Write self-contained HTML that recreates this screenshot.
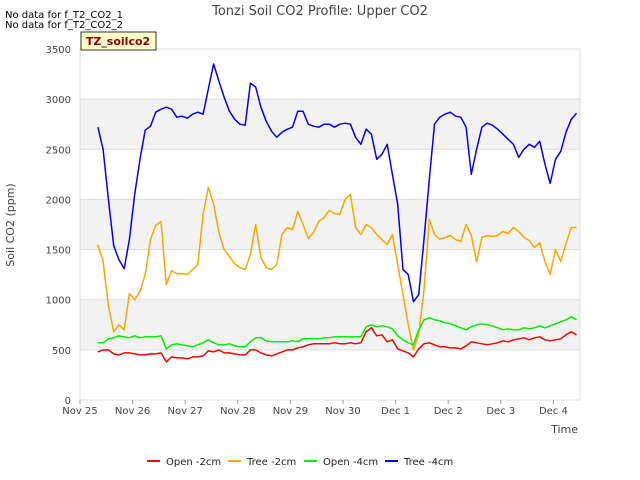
<!DOCTYPE html>
<html><head><meta charset="utf-8"><style>
body{margin:0;background:#fff;font-family:"Liberation Sans","DejaVu Sans",sans-serif}
svg{display:block}
</style></head><body>
<svg width="640" height="480" id="chart" xmlns="http://www.w3.org/2000/svg" font-family="DejaVu Sans, Liberation Sans, sans-serif">
<text x="320" y="15" text-anchor="middle" font-size="13" fill="#444">Tonzi Soil CO2 Profile: Upper CO2</text>
<text x="5" y="18" font-size="10" fill="#000">No data for f_T2_CO2_1</text>
<text x="5" y="28" font-size="10" fill="#000">No data for f_T2_CO2_2</text>
<g id="bands"></g>
<g id="grid"></g>
<rect x="80" y="49" width="500" height="351" fill="none" stroke="#ddd"/>
<g id="series"></g>
<g id="axes"></g>
<g>
<rect x="81" y="32" width="75" height="18" fill="#ffffcc" stroke="#000" stroke-width="0.8"/>
<text x="118" y="45" text-anchor="middle" font-size="11" font-weight="bold" fill="#8b0000">TZ_soilco2</text>
</g>
<text x="14" y="225" text-anchor="middle" font-size="11" fill="#444" transform="rotate(-90 14 225)">Soil CO2 (ppm)</text>
<text x="578" y="433" text-anchor="end" font-size="11" fill="#444">Time</text>
<g id="legend"></g>
</svg>
<script>
const xTickLabels=["Nov 25","Nov 26","Nov 27","Nov 28","Nov 29","Nov 30","Dec 1","Dec 2","Dec 3","Dec 4"];
const yTicks=[0,500,1000,1500,2000,2500,3000,3500];
const t0=0.34, dt=0.1;
const treeMinus4=[2720,2500,2000,1540,1400,1310,1600,2050,2400,2690,2730,2870,2900,2920,2900,2820,2830,2810,2850,2870,2850,3100,3350,3180,3020,2880,2800,2750,2740,3160,3120,2920,2780,2680,2620,2670,2700,2720,2880,2880,2750,2730,2720,2750,2750,2720,2750,2760,2750,2620,2550,2700,2650,2400,2450,2550,2250,1950,1300,1250,980,1050,1600,2200,2750,2820,2850,2870,2830,2820,2720,2250,2500,2720,2760,2740,2700,2650,2600,2550,2420,2500,2550,2520,2580,2350,2160,2400,2480,2670,2800,2860];
const treeMinus2=[1550,1380,940,680,750,700,1060,1000,1080,1250,1600,1740,1780,1150,1290,1260,1260,1250,1300,1350,1850,2120,1950,1670,1500,1430,1360,1320,1300,1450,1750,1420,1320,1300,1350,1650,1720,1700,1880,1750,1610,1670,1780,1820,1890,1860,1850,2000,2050,1720,1650,1750,1720,1650,1600,1550,1650,1350,1050,750,500,650,1100,1800,1650,1600,1620,1640,1600,1580,1750,1640,1380,1620,1640,1630,1640,1680,1660,1720,1680,1620,1590,1520,1570,1380,1250,1500,1380,1560,1720,1720];
const openMinus4=[570,570,610,620,640,630,620,640,620,630,630,630,640,510,550,560,550,540,530,550,570,600,570,550,550,560,540,530,530,580,620,620,590,580,580,580,580,590,580,610,610,610,610,620,620,630,630,630,630,630,630,730,750,730,740,730,710,640,600,570,550,700,800,820,800,790,770,760,740,720,700,730,750,760,750,740,720,700,710,700,700,720,710,720,740,720,740,760,780,800,830,800];
const openMinus2=[480,500,500,460,450,470,470,460,450,450,460,460,470,380,430,420,420,410,430,430,440,490,480,500,470,470,460,450,450,500,500,470,450,440,460,480,500,500,520,530,550,560,560,560,560,570,560,560,570,560,570,680,720,640,650,580,600,510,490,470,430,510,560,570,550,530,530,520,520,510,540,580,570,560,550,560,570,590,580,600,610,620,600,620,630,600,590,600,610,650,680,650];
const seriesNames=["Open -2cm","Tree -2cm","Open -4cm","Tree -4cm"];
const seriesColors=["#ff0000","#ffa500","#00ee00","#0000ff"];
const seriesData=[openMinus2,treeMinus2,openMinus4,treeMinus4];
const X=d=>80+d*52.6, Y=v=>400-v*(351/3500);
const NS="http://www.w3.org/2000/svg";
function mk(tag,attrs,parent){const e=document.createElementNS(NS,tag);for(const k in attrs)e.setAttribute(k,attrs[k]);parent.appendChild(e);return e;}
const bands=document.getElementById('bands'),grid=document.getElementById('grid'),axes=document.getElementById('axes'),ser=document.getElementById('series'),leg=document.getElementById('legend');
for(let i=0;i<yTicks.length-1;i++){
  if(i%2===1){const b=mk('rect',{x:80,y:Y(yTicks[i+1]),width:500,height:Y(yTicks[i])-Y(yTicks[i+1]),fill:'#f2f2f2'},bands);
  
  }
}
yTicks.forEach(v=>{
  const l=mk('line',{x1:80,x2:580,y1:Y(v),y2:Y(v),stroke:'#ddd'},grid);
  
  
  const t=mk('text',{x:71,y:Y(v)+4,'text-anchor':'end','font-size':10,fill:'#444'},axes);
  t.textContent=v;
  
  
});
xTickLabels.forEach((s,i)=>{
  const l=mk('line',{x1:X(i),x2:X(i),y1:400,y2:404,stroke:'#999'},axes);
  
  
  const t=mk('text',{x:X(i),y:414,'text-anchor':'middle','font-size':10,fill:'#444'},axes);
  t.textContent=s;
  
  
});
seriesData.forEach((arr,si)=>{
  const pts=arr.map((v,i)=>X(t0+i*dt).toFixed(1)+','+Y(v).toFixed(1)).join(' ');
  const p=mk('polyline',{points:pts,fill:'none',stroke:seriesColors[si],'stroke-width':1.5,'stroke-linejoin':'round'},ser);
  
  
});
const legX=[147,228,304,385];
seriesNames.forEach((n,i)=>{
  const g=mk('g',{},leg);
  
  
  mk('line',{x1:legX[i],x2:legX[i]+13,y1:461,y2:461,stroke:seriesColors[i],'stroke-width':2},g);
  const t=mk('text',{x:legX[i]+19,y:465,'font-size':10,fill:'#222'},g);
  t.textContent=n;
});
</script>
</body></html>
